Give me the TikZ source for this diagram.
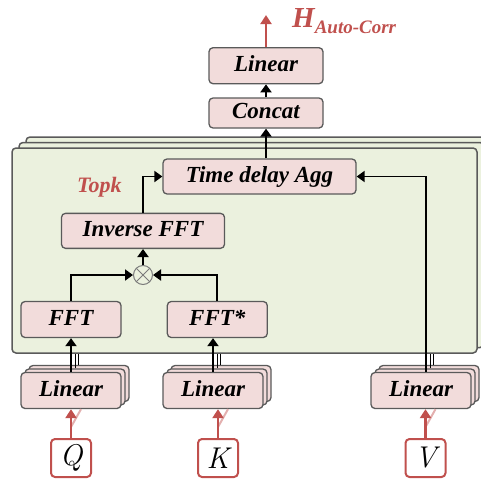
\documentclass[tikz,border=0pt]{standalone}
\usepackage{fontspec}
\setmainfont{Liberation Serif}
\newfontfamily\qkvfont{Latin Modern Roman}
\usetikzlibrary{arrows.meta,positioning,shadows}
\definecolor{boxfill}{HTML}{F2DCDB}
\definecolor{boxline}{HTML}{5A5A5A}
\definecolor{panelfill}{HTML}{EBF1DE}
\definecolor{redc}{HTML}{C0504D}
\tikzset{
  blk/.style={draw=boxline, line width=1.3pt, rounded corners=4pt, fill=boxfill,
              minimum height=36pt, inner sep=3pt, align=center,
              font=\fontsize{23}{26}\selectfont\bfseries\itshape, text=black,
              text height=16pt, text depth=5pt},
  stackbox/.style={blk, minimum width=100pt,
              double copy shadow={shadow xshift=4pt, shadow yshift=3.5pt}},
  panel/.style={draw=boxline, line width=1.5pt, rounded corners=4pt, fill=panelfill,
              double copy shadow={shadow xshift=7pt, shadow yshift=5.5pt}},
  inbox/.style={draw=redc, line width=2pt, rounded corners=4pt, fill=white,
              minimum width=40pt, minimum height=38pt, inner sep=0pt,
              font=\fontsize{30}{32}\selectfont\qkvfont\itshape},
  mulnode/.style={circle, draw=boxline!80, line width=1pt, fill=panelfill,
              minimum size=19pt, inner sep=0pt, path picture={
                \draw[boxline!80, line width=0.9pt]
                  (path picture bounding box.north west) -- (path picture bounding box.south east)
                  (path picture bounding box.north east) -- (path picture bounding box.south west);}},
  flow/.style={-{Triangle[width=11pt,length=8pt]}, line width=1.9pt, black},
  redflow/.style={-{Triangle[width=11pt,length=9pt]}, line width=2.2pt, redc},
  shline/.style={line width=1.4pt, black},
  redshade/.style={line width=2pt, redc!45},
}
\begin{document}
\begin{tikzpicture}[x=1pt, y=1pt]
  \useasboundingbox (0,0) rectangle (481,-479);

  \node[panel, minimum width=465pt, minimum height=205pt] (panel) at (244.5,-250.5) {};

  \node[blk, minimum width=100pt] (fft) at (71,-319.5) {FFT};
  \node[blk, minimum width=100pt, right=45pt of fft] (fftc) {FFT*};
  \node[mulnode] (mul) at (143,-275) {};
  \node[blk, minimum width=163pt, minimum height=35pt, above=16pt of mul] (ifft) {Inverse FFT};
  \node[blk, minimum width=193pt, minimum height=35pt] (tda) at (259.5,-176.5) {Time delay Agg};
  \node[anchor=base west, inner sep=0pt, text=redc,
        font=\fontsize{22}{24}\selectfont\bfseries\itshape] (topk) at (77,-192) {Topk};

  \node[blk, minimum width=114pt, minimum height=30pt] (concat) at (266,-113) {Concat};
  \node[blk, minimum width=114pt, above=13pt of concat] (linout) {Linear};
  \coordinate[above=32pt of linout] (outtop);
  \node[anchor=base west, inner sep=0pt, text=redc, font=\bfseries\itshape] (hout) at (292,-27)
    {\fontsize{29}{30}\selectfont H\raisebox{-6pt}{\fontsize{19}{20}\selectfont Auto-Corr}};

  \node[stackbox] (linq) at (71,-390.5) {Linear};
  \node[stackbox] (link) at (213,-390.5) {Linear};
  \node[stackbox] (linv) at (421,-390.5) {Linear};

  \node[inbox] (q) at (71,-458) {Q};
  \node[inbox] (k) at (218,-458) {K};
  \node[inbox] (v) at (425.5,-458) {V};

  % stacked heads
  \foreach \n/\dx in {linq/0pt, link/0pt, linv/5pt} {
    \draw[shline] ([shift={(\dx+4.5pt,3.5pt)}]\n.north) -- ([xshift=\dx+4.5pt]\n.north |- panel.south);
    \draw[shline] ([shift={(\dx+7.5pt,7pt)}]\n.north) -- ([xshift=\dx+7.5pt]\n.north |- panel.south);
  }
  \foreach \i/\n in {q/linq, k/link, v/linv}
    \draw[redshade] ([yshift=11pt]\i.north) -- ([xshift=10pt]\i.north |- \n.south);

  \draw[redflow] (q) -- (q |- linq.south);
  \draw[redflow] (k) -- (k |- link.south);
  \draw[redflow] (v) -- (v |- linv.south);

  \draw[flow] (linq.north) -- (fft.south);
  \draw[flow] (link.north) -- (link.north |- fftc.south);
  \draw[flow] ([xshift=5pt]linv.north) |- (tda.east);
  \draw[flow] (fft.north) |- (mul.west);
  \draw[flow] (fftc.north) |- (mul.east);
  \draw[flow] (mul) -- (ifft);
  \draw[flow] (ifft.north) |- (tda.west);
  \draw[flow] (concat.south |- tda.north) -- (concat.south);
  \draw[flow] (concat) -- (linout);
  \draw[redflow] (linout) -- (outtop);
\end{tikzpicture}
\end{document}
